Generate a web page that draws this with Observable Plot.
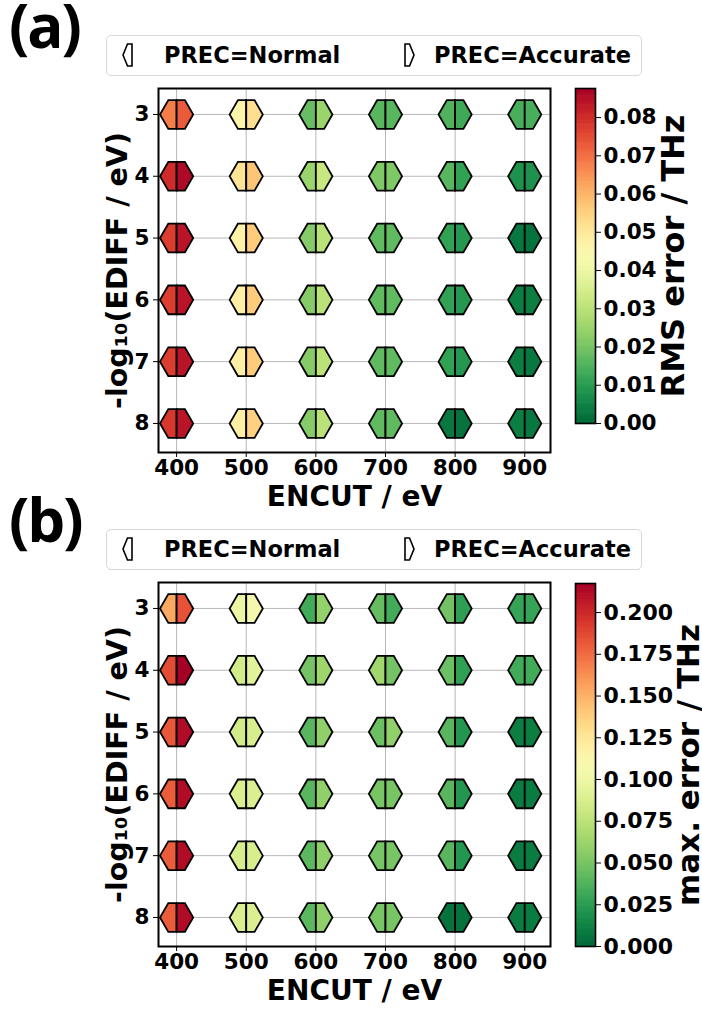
<!DOCTYPE html>
<html><head><meta charset="utf-8">
<script src="https://cdn.jsdelivr.net/npm/d3@7"></script>
<script src="https://cdn.jsdelivr.net/npm/@observablehq/plot@0.6"></script>
<style>
body{margin:0;background:#fff;}
#root{position:relative;width:702px;height:1016px;overflow:hidden;background:#fff;font-family:"DejaVu Sans",sans-serif;}
.plabel{position:absolute;font-family:"Open Sans",sans-serif;font-weight:700;font-size:60px;line-height:0.8;letter-spacing:-2px;color:#000;}
.legend{position:absolute;left:106px;width:536px;height:41px;border:1px solid #d8d8d8;border-radius:5px;box-sizing:border-box;background:#fff;}
.ltext{position:absolute;font-family:"DejaVu Sans",sans-serif;font-weight:bold;font-size:22.5px;line-height:1;color:#000;white-space:nowrap;}
</style></head>
<body><div id="root"></div>
<script>
const encut = [400, 500, 600, 700, 800, 900];
const ediff = [3, 4, 5, 6, 7, 8];
// rows: -log10(EDIFF) = 3..8 ; columns: ENCUT = 400..900
const rmsNormal = [
  [0.068, 0.046, 0.018, 0.016, 0.015, 0.014],
  [0.080, 0.051, 0.025, 0.021, 0.016, 0.008],
  [0.077, 0.047, 0.022, 0.017, 0.011, 0.003],
  [0.077, 0.048, 0.022, 0.017, 0.011, 0.004],
  [0.077, 0.048, 0.022, 0.017, 0.011, 0.004],
  [0.078, 0.048, 0.022, 0.017, 0.003, 0.004]
];
const rmsAccurate = [
  [0.073, 0.052, 0.025, 0.016, 0.013, 0.014],
  [0.086, 0.057, 0.032, 0.021, 0.011, 0.008],
  [0.084, 0.056, 0.030, 0.017, 0.009, 0.002],
  [0.084, 0.056, 0.030, 0.017, 0.009, 0.004],
  [0.084, 0.056, 0.030, 0.017, 0.009, 0.003],
  [0.084, 0.055, 0.030, 0.017, 0.002, 0.003]
];
const maxNormal = [
  [0.153, 0.099, 0.033, 0.044, 0.048, 0.029],
  [0.186, 0.085, 0.049, 0.064, 0.046, 0.033],
  [0.182, 0.085, 0.040, 0.046, 0.040, 0.010],
  [0.180, 0.088, 0.040, 0.050, 0.040, 0.009],
  [0.180, 0.087, 0.041, 0.050, 0.040, 0.009],
  [0.180, 0.088, 0.041, 0.050, 0.005, 0.009]
];
const maxAccurate = [
  [0.184, 0.105, 0.059, 0.033, 0.026, 0.029],
  [0.219, 0.092, 0.063, 0.049, 0.027, 0.033],
  [0.212, 0.087, 0.058, 0.058, 0.022, 0.010],
  [0.212, 0.088, 0.058, 0.050, 0.022, 0.009],
  [0.212, 0.087, 0.058, 0.050, 0.022, 0.009],
  [0.212, 0.088, 0.058, 0.050, 0.004, 0.009]
];
const rmsTicks = [0, 0.01, 0.02, 0.03, 0.04, 0.05, 0.06, 0.07, 0.08];
const maxTicks = [0, 0.025, 0.05, 0.075, 0.1, 0.125, 0.15, 0.175, 0.2];
const rmsMax = 0.0876;
const maxMax = 0.2174;

const K = Math.sqrt(3) / 2;
const halfLeft = {draw(ctx, size) {
  const r = Math.sqrt(size / Math.PI), h = r * K;
  ctx.moveTo(0, -h); ctx.lineTo(-r / 2, -h); ctx.lineTo(-r, 0); ctx.lineTo(-r / 2, h); ctx.lineTo(0, h); ctx.closePath();
}};
const halfRight = {draw(ctx, size) {
  const r = Math.sqrt(size / Math.PI), h = r * K;
  ctx.moveTo(0, -h); ctx.lineTo(r / 2, -h); ctx.lineTo(r, 0); ctx.lineTo(r / 2, h); ctx.lineTo(0, h); ctx.closePath();
}};

const root = document.getElementById("root");
const FONT = {fontFamily: "DejaVu Sans", fontWeight: "bold", background: "transparent", color: "black", overflow: "visible"};

function place(el, left, top) {
  el.style.position = "absolute"; el.style.left = left + "px"; el.style.top = top + "px";
  root.appendChild(el);
}

function mainPlot(normal, accurate, vmax) {
  const data = [];
  ediff.forEach((e, i) => encut.forEach((c, j) => data.push({encut: c, ediff: e, normal: normal[i][j], accurate: accurate[i][j]})));
  return Plot.plot({
    width: 560, height: 520,
    marginLeft: 158, marginRight: 10, marginTop: 88, marginBottom: 68,
    style: FONT,
    x: {domain: [374, 937], label: null},
    y: {domain: [2.58, 8.47], reverse: true, label: null},
    color: {type: "linear", scheme: "RdYlGn", reverse: true, domain: [0, vmax]},
    marks: [
      Plot.gridX(encut, {stroke: "#b8b8b8", strokeOpacity: 1, strokeWidth: 1}),
      Plot.gridY(ediff, {stroke: "#b8b8b8", strokeOpacity: 1, strokeWidth: 1}),
      Plot.dot(data, {x: "encut", y: "ediff", fill: "normal", r: 16.6, symbol: halfLeft, stroke: "black", strokeWidth: 1.8}),
      Plot.dot(data, {x: "encut", y: "ediff", fill: "accurate", r: 16.6, symbol: halfRight, stroke: "black", strokeWidth: 1.8}),
      Plot.frame({stroke: "black", strokeWidth: 2}),
      Plot.axisX(encut, {tickSize: 5, tickPadding: 2, tickFormat: d3.format("d"), label: null, fontSize: 21.5, fontWeight: "bold", stroke: "black"}),
      Plot.axisY(ediff, {tickSize: 5, tickPadding: 4, tickFormat: d3.format("d"), label: null, fontSize: 21.5, fontWeight: "bold", stroke: "black"}),
      Plot.text(["ENCUT / eV"], {text: d => d, frameAnchor: "bottom", textAnchor: "middle", dy: 53, fontSize: 28, fontWeight: "bold"}),
      Plot.text(["-log₁₀(EDIFF / eV)"], {text: d => d, frameAnchor: "left", textAnchor: "middle", dx: -41, rotate: -90, fontSize: 28.5, fontWeight: "bold"})
    ]
  });
}

function colorbar(vmax, ticks, fmt, label, mt, mb, fs, ldx, lfs) {
  const n = 300;
  const steps = d3.range(n).map(i => ({y1: i * vmax / n, y2: Math.min(vmax, (i + 1.6) * vmax / n), v: (i + 0.5) * vmax / n}));
  return Plot.plot({
    width: 127, height: 470,
    marginLeft: 0, marginRight: 107, marginTop: mt, marginBottom: mb,
    style: FONT,
    y: {domain: [0, vmax], label: null},
    color: {type: "linear", scheme: "RdYlGn", reverse: true, domain: [0, vmax]},
    marks: [
      Plot.rect(steps, {y1: "y1", y2: "y2", fill: "v"}),
      Plot.frame({stroke: "black", strokeWidth: 1.6}),
      Plot.axisY(ticks, {anchor: "right", tickSize: 5, tickPadding: 3, tickFormat: d3.format(fmt), label: null, fontSize: fs, fontWeight: "bold", stroke: "black"}),
      Plot.text([label], {text: d => d, frameAnchor: "right", textAnchor: "middle", dx: ldx, rotate: -90, fontSize: lfs, fontWeight: "bold"})
    ]
  });
}

function legend(top) {
  const box = document.createElement("div");
  box.className = "legend"; box.style.top = top + "px";
  root.appendChild(box);
  const mk = (left, right) => {
    const s = document.createElementNS("http://www.w3.org/2000/svg", "svg");
    s.setAttribute("width", 14); s.setAttribute("height", 28);
    const p = document.createElementNS("http://www.w3.org/2000/svg", "path");
    p.setAttribute("d", right ? "M2,3 L6.5,3 L11,14 L6.5,25 L2,25 Z" : "M11,3 L6.5,3 L2,14 L6.5,25 L11,25 Z");
    p.setAttribute("fill", "white"); p.setAttribute("stroke", "black"); p.setAttribute("stroke-width", "1.6");
    s.appendChild(p);
    place(s, left, top + 6);
  };
  mk(121, false); mk(403, true);
  const t1 = document.createElement("div"); t1.className = "ltext"; t1.textContent = "PREC=Normal"; place(t1, 164, top + 9);
  const t2 = document.createElement("div"); t2.className = "ltext"; t2.textContent = "PREC=Accurate"; place(t2, 434, top + 9);
}

const la = document.createElement("div"); la.className = "plabel"; la.textContent = "(a)"; place(la, 9, 1);
const lb = document.createElement("div"); lb.className = "plabel"; lb.textContent = "(b)"; place(lb, 9, 495);

legend(35);
legend(529);

place(mainPlot(rmsNormal, rmsAccurate, rmsMax), 0, 0);
place(mainPlot(maxNormal, maxAccurate, maxMax), 0, 494);
place(colorbar(rmsMax, rmsTicks, ".2f", "RMS error / THz", 88, 47, 21.5, 78, 32), 575, 0);
place(colorbar(maxMax, maxTicks, ".3f", "max. error / THz", 89, 18, 22, 94, 31), 575, 494);
</script></body></html>
